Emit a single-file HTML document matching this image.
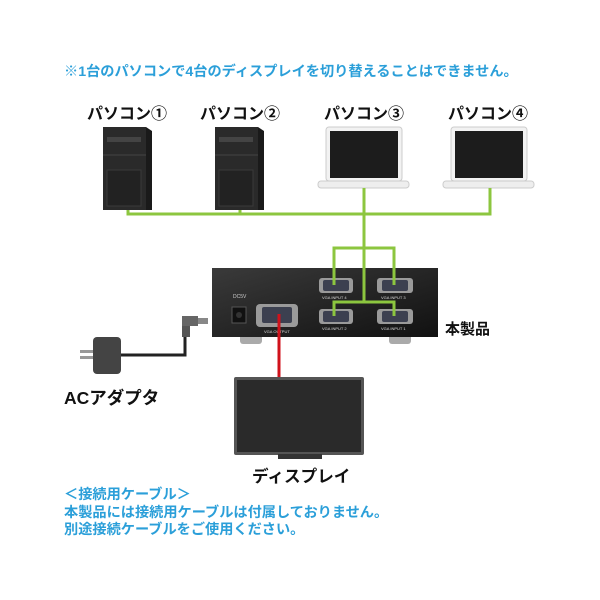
<!DOCTYPE html>
<html><head><meta charset="utf-8"><style>
body{margin:0;background:#fff;width:600px;height:600px;overflow:hidden;position:relative;font-family:"Liberation Sans","Noto Sans CJK JP",sans-serif}
.t{position:absolute;white-space:nowrap}
.c{color:#2b9fd9;font-weight:bold;font-size:14.2px}
.k{color:#111;font-size:16px;font-weight:bold}
</style></head><body>
<div class="t c" style="left:64px;top:61px">※1台のパソコンで4台のディスプレイを切り替えることはできません。</div>
<div class="t k" style="left:87px;top:100px">パソコン①</div>
<div class="t k" style="left:200px;top:100px">パソコン②</div>
<div class="t k" style="left:324px;top:100px">パソコン③</div>
<div class="t k" style="left:448px;top:100px">パソコン④</div>
<svg width="600" height="600" style="position:absolute;left:0;top:0">
<defs><linearGradient id="g" x1="0" y1="0" x2="1" y2="1"><stop offset="0" stop-color="#3a3a3a"/><stop offset="1" stop-color="#111"/></linearGradient></defs>
<g><rect x="103" y="127" width="43" height="83" fill="#2a2a2a"/><polygon points="146,127 152,131 152,210 146,210" fill="#1a1a1a"/><rect x="107" y="137" width="34" height="5" fill="#444"/><line x1="103" y1="155" x2="146" y2="155" stroke="#444"/><rect x="107" y="170" width="34" height="36" fill="#222" stroke="#3a3a3a"/></g>
<g><rect x="215" y="127" width="43" height="83" fill="#2a2a2a"/><polygon points="258,127 264,131 264,210 258,210" fill="#1a1a1a"/><rect x="219" y="137" width="34" height="5" fill="#444"/><line x1="215" y1="155" x2="258" y2="155" stroke="#444"/><rect x="219" y="170" width="34" height="36" fill="#222" stroke="#3a3a3a"/></g>
<g><rect x="326" y="127" width="76" height="54" rx="3" fill="#f2f2f2" stroke="#ccc"/><rect x="330" y="131" width="68" height="47" fill="#1c1c1c"/><rect x="318" y="181" width="91" height="7" rx="3" fill="#eee" stroke="#ccc"/></g>
<g><rect x="451" y="127" width="76" height="54" rx="3" fill="#f2f2f2" stroke="#ccc"/><rect x="455" y="131" width="68" height="47" fill="#1c1c1c"/><rect x="443" y="181" width="91" height="7" rx="3" fill="#eee" stroke="#ccc"/></g>
<rect x="240" y="334" width="22" height="10" rx="3" fill="#aaa"/><rect x="389" y="334" width="22" height="10" rx="3" fill="#aaa"/>
<rect x="212" y="268" width="226" height="69" fill="url(#g)"/>
<rect x="232" y="307" width="14" height="16" fill="#111" stroke="#555"/><circle cx="239" cy="315" r="3" fill="#333"/>
<text x="233" y="298" fill="#ccc" font-size="5" font-family="Liberation Sans">DC5V</text>
<g fill="#9a9a9a"><rect x="319" y="278" width="34" height="15" rx="3"/><rect x="377" y="278" width="36" height="15" rx="3"/><rect x="319" y="309" width="34" height="15" rx="3"/><rect x="377" y="309" width="36" height="15" rx="3"/><rect x="256" y="304" width="42" height="23" rx="4"/></g>
<g fill="#3c4050"><rect x="323" y="280" width="26" height="11" rx="2"/><rect x="382" y="280" width="26" height="11" rx="2"/><rect x="323" y="311" width="26" height="11" rx="2"/><rect x="382" y="311" width="26" height="11" rx="2"/><rect x="262" y="307" width="30" height="16" rx="2"/></g>
<g fill="#ddd" font-size="4" font-family="Liberation Sans"><text x="322" y="299">VGA INPUT 4</text><text x="381" y="299">VGA INPUT 3</text><text x="322" y="330">VGA INPUT 2</text><text x="381" y="330">VGA INPUT 1</text><text x="264" y="333">VGA OUTPUT</text></g>
<g stroke="#8cc63f" stroke-width="3" fill="none">
<polyline points="128,210 128,214 490,214 490,188"/><line x1="240" y1="210" x2="240" y2="214"/><line x1="364" y1="188" x2="364" y2="302"/>
<polyline points="334,285 334,248 394,248 394,285"/><polyline points="334,316 334,302 394,302 394,316"/></g>
<line x1="279" y1="314" x2="279" y2="377" stroke="#d0121b" stroke-width="3"/>
<rect x="234" y="377" width="130" height="78" rx="2" fill="#555"/><rect x="237" y="380" width="124" height="72" fill="#2a2a2a"/>
<rect x="278" y="454" width="44" height="5" fill="#333"/>
<polyline points="120,355 185,355 185,335" stroke="#222" stroke-width="3" fill="none"/>
<rect x="182" y="322" width="8" height="15" fill="#555"/><rect x="182" y="316" width="16" height="10" fill="#666"/><rect x="198" y="318" width="10" height="6" fill="#888"/>
<rect x="93" y="337" width="28" height="37" rx="4" fill="#444"/>
<rect x="80" y="350" width="13" height="3" fill="#999"/><rect x="80" y="356" width="13" height="3" fill="#999"/>
</svg>
<div class="t k" style="left:445px;top:318px;font-size:15px">本製品</div>
<div class="t k" style="left:64px;top:385px;font-size:17.5px">ACアダプタ</div>
<div class="t k" style="left:252px;top:463px;font-size:16.6px">ディスプレイ</div>
<div class="t c" style="left:64px;top:484px">＜接続用ケーブル＞</div>
<div class="t c" style="left:64px;top:502px">本製品には接続用ケーブルは付属しておりません。</div>
<div class="t c" style="left:64px;top:519px">別途接続ケーブルをご使用ください。</div>
</body></html>
